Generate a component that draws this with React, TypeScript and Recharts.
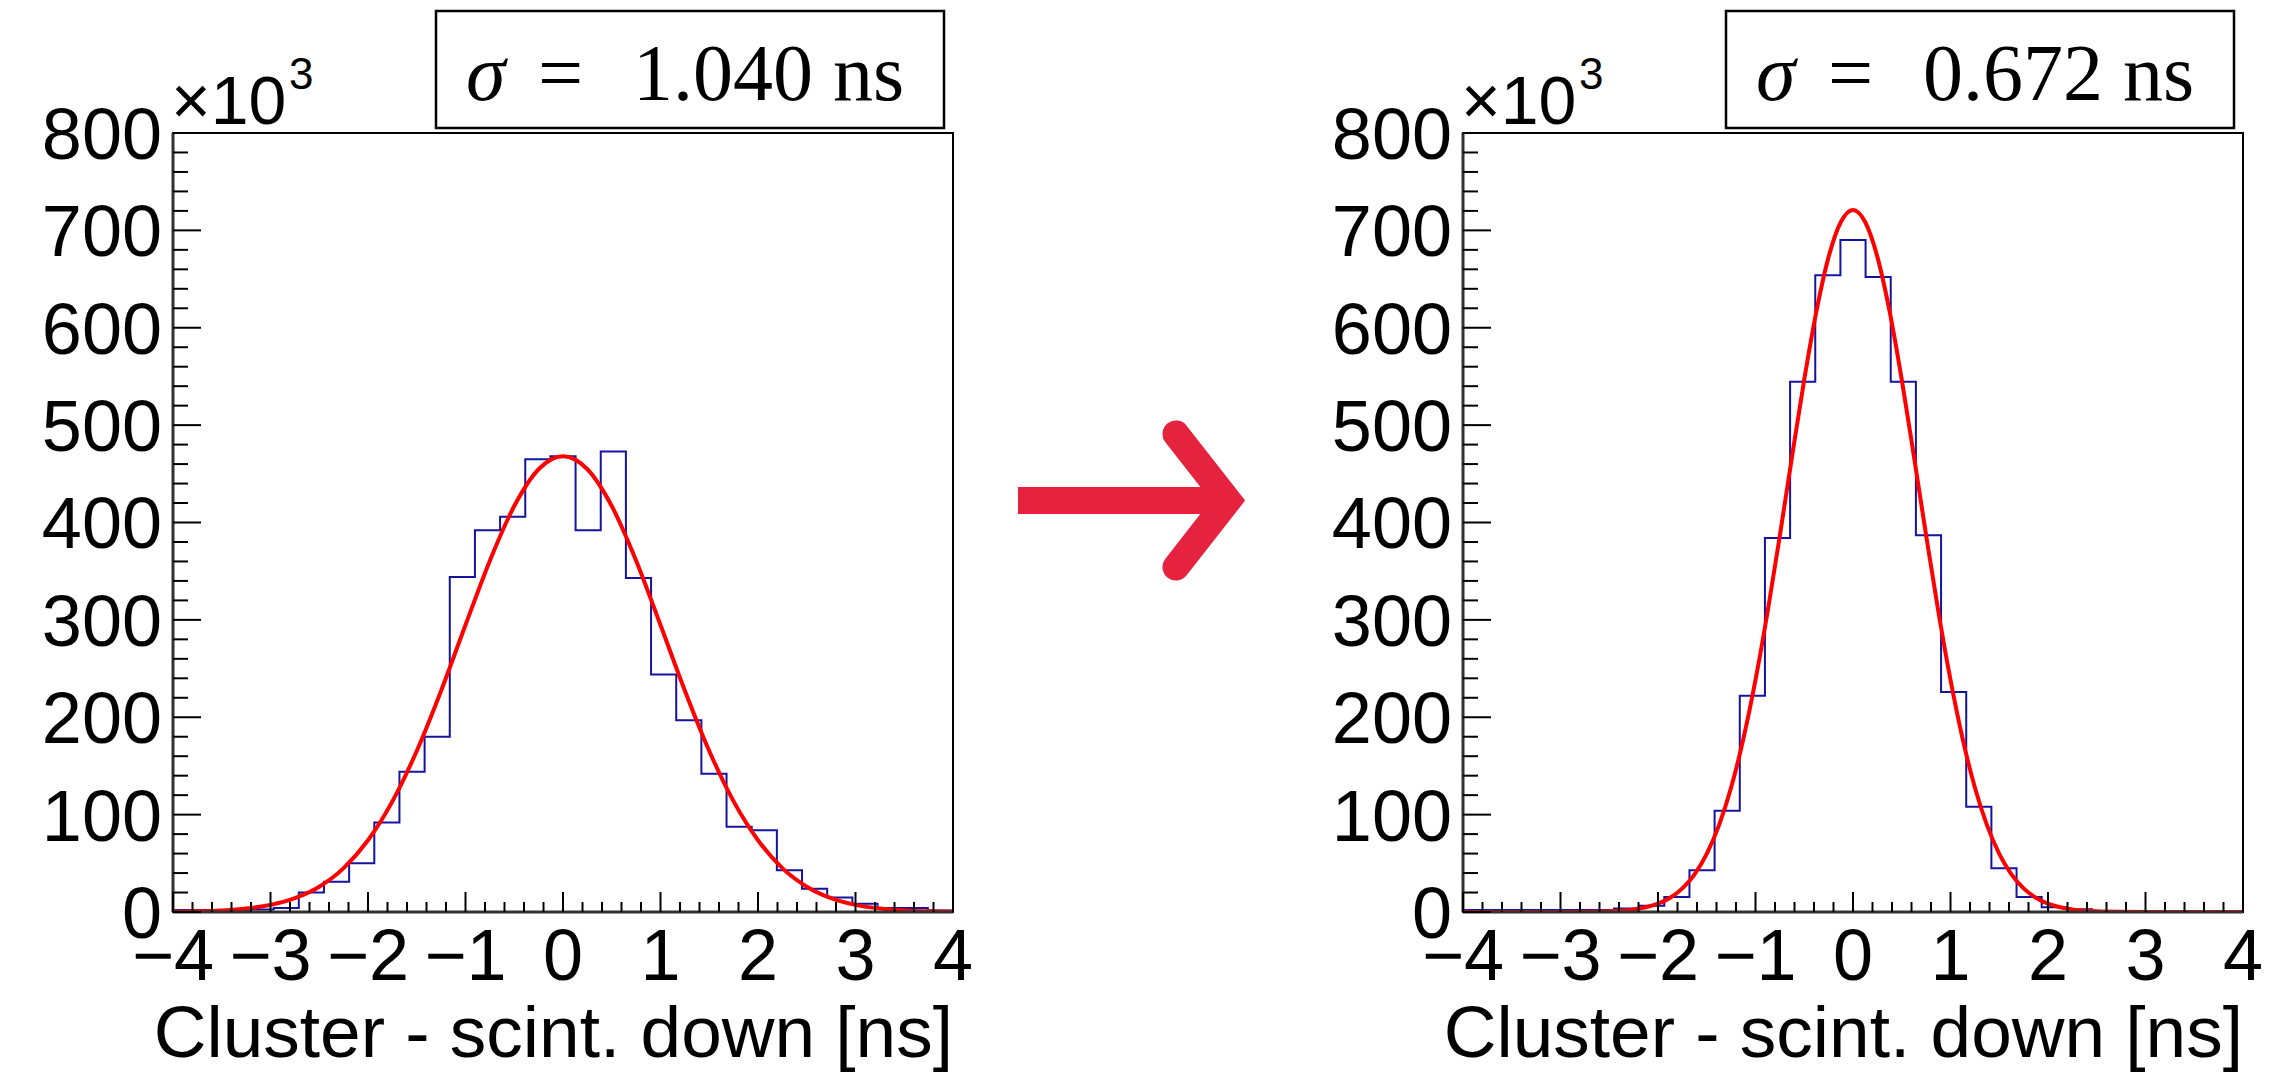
import React from 'react';
import {ComposedChart, Line, XAxis, YAxis, ReferenceArea} from 'recharts';

// histogram range and binning (31 bins between -4 and 4 ns)
const X_MIN = -4;
const X_MAX = 4;
const N_BINS = 31;
const binEdges = Array.from({length: N_BINS + 1}, (_, k) => X_MIN + (k * (X_MAX - X_MIN)) / N_BINS);

// bin contents, x10^3 entries
const beforeCounts = [
  2, 2, 2, 2.5, 4, 20, 31, 50, 92, 144, 180, 344, 392, 406, 465, 468, 392, 473, 343, 244, 197, 142, 87.5, 84, 43, 24,
  15, 8.5, 4, 4, 1.5,
];
const afterCounts = [
  2, 2, 2, 2, 2, 2, 3.5, 6.5, 15.4, 43, 104, 222, 384, 544.5, 654, 690, 652, 544.5, 387, 226, 108, 45, 15.4, 5, 2.7, 1,
  1, 1, 0.5, 0.5, 0.5,
];

// gaussian fit curves, x10^3
const beforeFitX = [
  -4, -3.75, -3.5, -3.25, -3, -2.75, -2.5, -2.25, -2, -1.75, -1.5, -1.25, -1, -0.75, -0.5, -0.25, 0, 0.25, 0.5, 0.75, 1,
  1.25, 1.5, 1.75, 2, 2.25, 2.5, 2.75, 3, 3.25, 3.5, 3.75, 4,
];
const beforeFitY = [
  0.3, 0.7, 1.6, 3.5, 7.3, 14.2, 26, 45.1, 73.7, 113.6, 165.4, 227.3, 294.7, 360.8, 416.9, 454.7, 468, 454.7, 416.9,
  360.8, 294.7, 227.3, 165.4, 113.6, 73.7, 45.1, 26, 14.2, 7.3, 3.5, 1.6, 0.7, 0.3,
];
const afterFitX = [
  -4, -3.5, -3, -2.75, -2.5, -2.375, -2.25, -2.125, -2, -1.875, -1.75, -1.625, -1.5, -1.375, -1.25, -1.125, -1, -0.875,
  -0.75, -0.625, -0.5, -0.375, -0.25, -0.125, 0, 0.125, 0.25, 0.375, 0.5, 0.625, 0.75, 0.875, 1, 1.125, 1.25, 1.375,
  1.5, 1.625, 1.75, 1.875, 2, 2.125, 2.25, 2.375, 2.5, 2.75, 3, 3.5, 4,
];
const afterFitY = [
  0, 0, 0, 0.2, 0.7, 1.4, 2.7, 4.9, 8.6, 14.7, 24.3, 38.7, 59.7, 88.9, 127.8, 177.6, 238.3, 308.9, 386.8, 467.9, 546.7,
  617, 672.8, 708.6, 721, 708.6, 672.8, 617, 546.7, 467.9, 386.8, 308.9, 238.3, 177.6, 127.8, 88.9, 59.7, 38.7, 24.3,
  14.7, 8.6, 4.9, 2.7, 1.4, 0.7, 0.2, 0, 0, 0,
];

const sigmaLabels = ['1.040', '0.672'];
const xTitle = 'Cluster - scint. down [ns]';

// axis ticks: minor every 0.2 ns / 20k, labels on the integers / hundreds
const xTicks = Array.from({length: 41}, (_, i) => X_MIN + i * 0.2);
const yTicks = Array.from({length: 41}, (_, i) => i * 20);

const SANS = "'Liberation Sans', Arial, Helvetica, sans-serif";
const SERIF = "'Liberation Serif', 'Times New Roman', serif";
const PANEL_W = 1147;
const H = 1074;
const PLOT_L = 173;
const PLOT_T = 133;
const PLOT_R = 953;
const PLOT_B = 912;

const isInt = (v: number) => Math.abs(v - Math.round(v)) < 1e-6;
const fmtX = (v: number) => {
  const r = Math.round(v);
  return r < 0 ? `\u2212${Math.abs(r)}` : String(r);
};

const XTick = (props: any) => {
  const {x, y, payload} = props;
  const major = isInt(payload.value);
  return (
    <g>
      <line x1={x} x2={x} y1={y} y2={y - (major ? 20 : 10)} stroke='#000' strokeWidth={2} />
      {major && (
        <text x={x} y={y + 68} textAnchor='middle' fontSize={72} fontFamily={SANS} fill='#000'>
          {fmtX(payload.value)}
        </text>
      )}
    </g>
  );
};

const YTick = (props: any) => {
  const {x, y, payload} = props;
  const major = Math.round(payload.value) % 100 === 0;
  return (
    <g>
      <line x1={x} x2={x + (major ? 28 : 15)} y1={y} y2={y} stroke='#000' strokeWidth={2} />
      {major && (
        <text x={x - 11} y={y} dy='0.36em' textAnchor='end' fontSize={72} fontFamily={SANS} fill='#000'>
          {Math.round(payload.value)}
        </text>
      )}
    </g>
  );
};

interface PanelProps {
  left: number;
  counts: number[];
  fitX: number[];
  fitY: number[];
  sigma: string;
}

const Panel = ({left, counts, fitX, fitY, sigma}: PanelProps) => {
  const hist = binEdges.map((x, i) => ({x, y: counts[Math.min(i, counts.length - 1)]}));
  const fit = fitX.map((x, i) => ({x, y: fitY[i]}));

  return (
    <div style={{position: 'absolute', left, top: 0, width: PANEL_W, height: H}}>
      <svg width={PANEL_W} height={H} style={{position: 'absolute', left: 0, top: 0}}>
        <rect x={436} y={11} width={508} height={117} fill='#fff' stroke='#000' strokeWidth={2.5} />
        <text y={100} fontFamily={SERIF} fontSize={80} fill='#000'>
          <tspan x={466} fontStyle='italic'>
            σ
          </tspan>
          <tspan x={538}>=</tspan>
        </text>
        <text x={813} y={100} textAnchor='end' fontFamily={SERIF} fontSize={80} fill='#000'>
          {sigma}
        </text>
        <text x={833} y={100} fontFamily={SERIF} fontSize={80} fill='#000'>
          ns
        </text>
        <text x={171} y={124} fontFamily={SANS} fontSize={68} fill='#000'>
          ×10
        </text>
        <text x={289} y={89} fontFamily={SANS} fontSize={44} fill='#000'>
          3
        </text>
        <text x={PLOT_R} y={1057} textAnchor='end' fontFamily={SANS} fontSize={73} fill='#000'>
          {xTitle}
        </text>
      </svg>
      <div style={{position: 'absolute', left: 0, top: 0}}>
        <ComposedChart
          width={PANEL_W}
          height={H}
          margin={{top: PLOT_T, right: PANEL_W - PLOT_R, bottom: H - PLOT_B - 1, left: PLOT_L - 1}}
        >
          <XAxis
            type='number'
            dataKey='x'
            domain={[X_MIN, X_MAX]}
            ticks={xTicks}
            interval={0}
            height={1}
            tickSize={0}
            tickMargin={0}
            tickLine={false}
            tick={<XTick />}
            axisLine={{stroke: '#333', strokeWidth: 3}}
            allowDataOverflow
          />
          <YAxis
            type='number'
            domain={[0, 800]}
            ticks={yTicks}
            interval={0}
            width={1}
            tickSize={0}
            tickMargin={0}
            tickLine={false}
            tick={<YTick />}
            axisLine={{stroke: '#333', strokeWidth: 3}}
            allowDataOverflow
          />
          <ReferenceArea x1={X_MIN} x2={X_MAX} y1={0} y2={800} fill='none' stroke='#000' strokeWidth={2} />
          <Line
            data={hist}
            dataKey='y'
            type='stepAfter'
            stroke='#1414a0'
            strokeWidth={2}
            dot={false}
            isAnimationActive={false}
          />
          <Line
            data={fit}
            dataKey='y'
            type='monotone'
            stroke='#ff0000'
            strokeWidth={4}
            dot={false}
            isAnimationActive={false}
          />
        </ComposedChart>
      </div>
    </div>
  );
};

export default function App() {
  return (
    <div style={{position: 'absolute', left: 0, top: 0, width: 2294, height: H, background: '#fff', overflow: 'hidden'}}>
      <Panel left={0} counts={beforeCounts} fitX={beforeFitX} fitY={beforeFitY} sigma={sigmaLabels[0]} />
      <Panel left={1290} counts={afterCounts} fitX={afterFitX} fitY={afterFitY} sigma={sigmaLabels[1]} />
      <svg width={2294} height={H} style={{position: 'absolute', left: 0, top: 0, pointerEvents: 'none'}}>
        <rect x={1018} y={487} width={215} height={27} fill='#e6233e' />
        <polyline
          points='1176,434 1228,500.5 1176,567'
          fill='none'
          stroke='#e6233e'
          strokeWidth={27}
          strokeLinecap='round'
          strokeLinejoin='miter'
        />
      </svg>
    </div>
  );
}
